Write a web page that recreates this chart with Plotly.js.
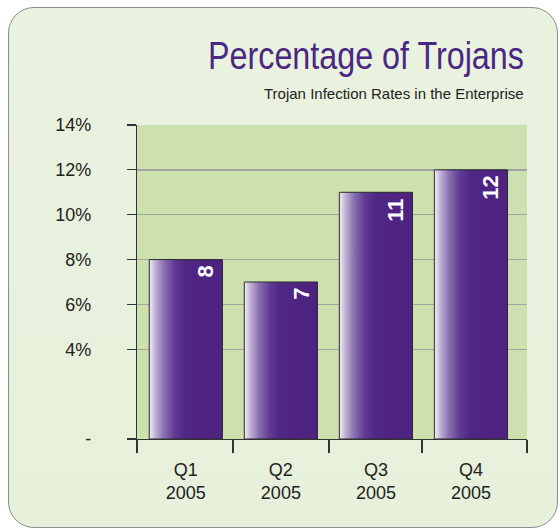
<!DOCTYPE html>
<html>
<head>
<meta charset="utf-8">
<script src="https://cdn.plot.ly/plotly-3.0.1.min.js"></script>
<style>
  html, body { margin: 0; padding: 0; background: #ffffff; }
  #frame {
    position: absolute; left: 8px; top: 7px; width: 548px; height: 519px;
    border: 1.5px solid #8c8c8c; border-radius: 26px;
    background: linear-gradient(#eaf2e0, #e6f0da);
  }
  #chart { position: absolute; left: 0; top: 0; width: 559px; height: 529px; }
</style>
</head>
<body>
<div id="frame"></div>
<div id="chart"></div>
<script>
// ---- data ----
const quarters = ["Q1", "Q2", "Q3", "Q4"];
const years = ["2005", "2005", "2005", "2005"];
const rates = [8, 7, 11, 12];
const yTickValues = [0, 4, 6, 8, 10, 12, 14];
const yTickLabels = ["-", "4%", "6%", "8%", "10%", "12%", "14%"];
const titleText = "Percentage of Trojans";
const subtitleText = "Trojan Infection Rates in the Enterprise";

const FONT = "'Liberation Sans', Arial, Helvetica, sans-serif";
const xs = quarters.map((q, i) => i);
const catLabels = quarters.map((q, i) => q + "<br>" + years[i]);

const trace = {
  type: "bar",
  x: xs,
  y: rates,
  width: 0.77,
  marker: { color: "#4e2381", line: { color: "#2a2a2a", width: 1 } },
  hoverinfo: "none"
};

const annotations = rates.map((v, i) => ({
  x: xs[i], y: v, xref: "x", yref: "y",
  text: String(v), showarrow: false, textangle: -90,
  xanchor: "center", yanchor: "top",
  xshift: 20, yshift: -4,
  font: { family: FONT, size: 22, color: "#ffffff", weight: "bold" }
}));
annotations.push({
  text: subtitleText, xref: "paper", yref: "paper", x: 0.998, y: 1, xanchor: "right", yanchor: "bottom",
  yshift: 21, showarrow: false,
  font: { family: FONT, size: 15, color: "#222222" }
});

const layout = {
  width: 559, height: 529,
  paper_bgcolor: "rgba(0,0,0,0)",
  plot_bgcolor: "#cde1ae",
  margin: { l: 137, r: 32, t: 125, b: 90 },
  showlegend: false,
  title: {
    text: titleText, x: 0.992, xanchor: "right", xref: "paper",
    y: 0.87, yanchor: "bottom", yref: "container",
    font: { family: FONT, size: 38, color: "#4b2784" }
  },
  xaxis: {
    range: [-0.514, 3.59], fixedrange: true,
    tickmode: "array", tickvals: xs, ticktext: catLabels,
    ticks: "", ticklabelstandoff: 14,
    showline: true, linecolor: "#333333", linewidth: 1.2,
    showgrid: false, zeroline: false,
    tickfont: { family: FONT, size: 18, color: "#222222" },
    minor: { tickmode: "array", tickvals: [-0.514, 0.497, 1.507, 2.486, 3.59], ticks: "outside", ticklen: 13, tickcolor: "#333333", tickwidth: 1.2, showgrid: false }
  },
  yaxis: {
    range: [0, 14], fixedrange: true,
    tickmode: "array", tickvals: yTickValues, ticktext: yTickLabels,
    ticks: "outside", ticklen: 9, tickcolor: "#333333", tickwidth: 1.2,
    ticklabelstandoff: 32,
    showline: true, linecolor: "#333333", linewidth: 1.2,
    showgrid: true, gridcolor: "#a3a3a3", gridwidth: 1.5,
    zeroline: false,
    tickfont: { family: FONT, size: 18, color: "#222222" }
  },
  annotations: annotations
};

Plotly.newPlot("chart", [trace], layout, { displayModeBar: false, staticPlot: true }).then(gd => {
  const svg = gd.querySelector(".main-svg");
  const defs = svg.querySelector("defs");
  const NS = "http://www.w3.org/2000/svg";
  const grad = document.createElementNS(NS, "linearGradient");
  grad.setAttribute("id", "barGrad");
  grad.setAttribute("x1", "0"); grad.setAttribute("x2", "1");
  grad.setAttribute("y1", "0"); grad.setAttribute("y2", "0");
  [["0", "#f4f0f8"], ["0.08", "#c2b3d6"], ["0.2", "#8a70b0"], ["0.35", "#5f3a93"], ["0.5", "#502684"], ["1", "#4d2280"]].forEach(([o, c]) => {
    const s = document.createElementNS(NS, "stop");
    s.setAttribute("offset", o); s.setAttribute("stop-color", c);
    grad.appendChild(s);
  });
  defs.appendChild(grad);
  gd.querySelectorAll(".barlayer .point path").forEach(p => { p.style.fill = "url(#barGrad)"; });

  // condense the title horizontally, keeping its right edge fixed
  const t = gd.querySelector(".gtitle");
  if (t) {
    const w = t.getBBox().width;
    const sx = 316 / w;
    const x = parseFloat(t.getAttribute("x"));
    t.setAttribute("transform", `translate(${x * (1 - sx)},0) scale(${sx},1)`);
  }
});
</script>
</body>
</html>
